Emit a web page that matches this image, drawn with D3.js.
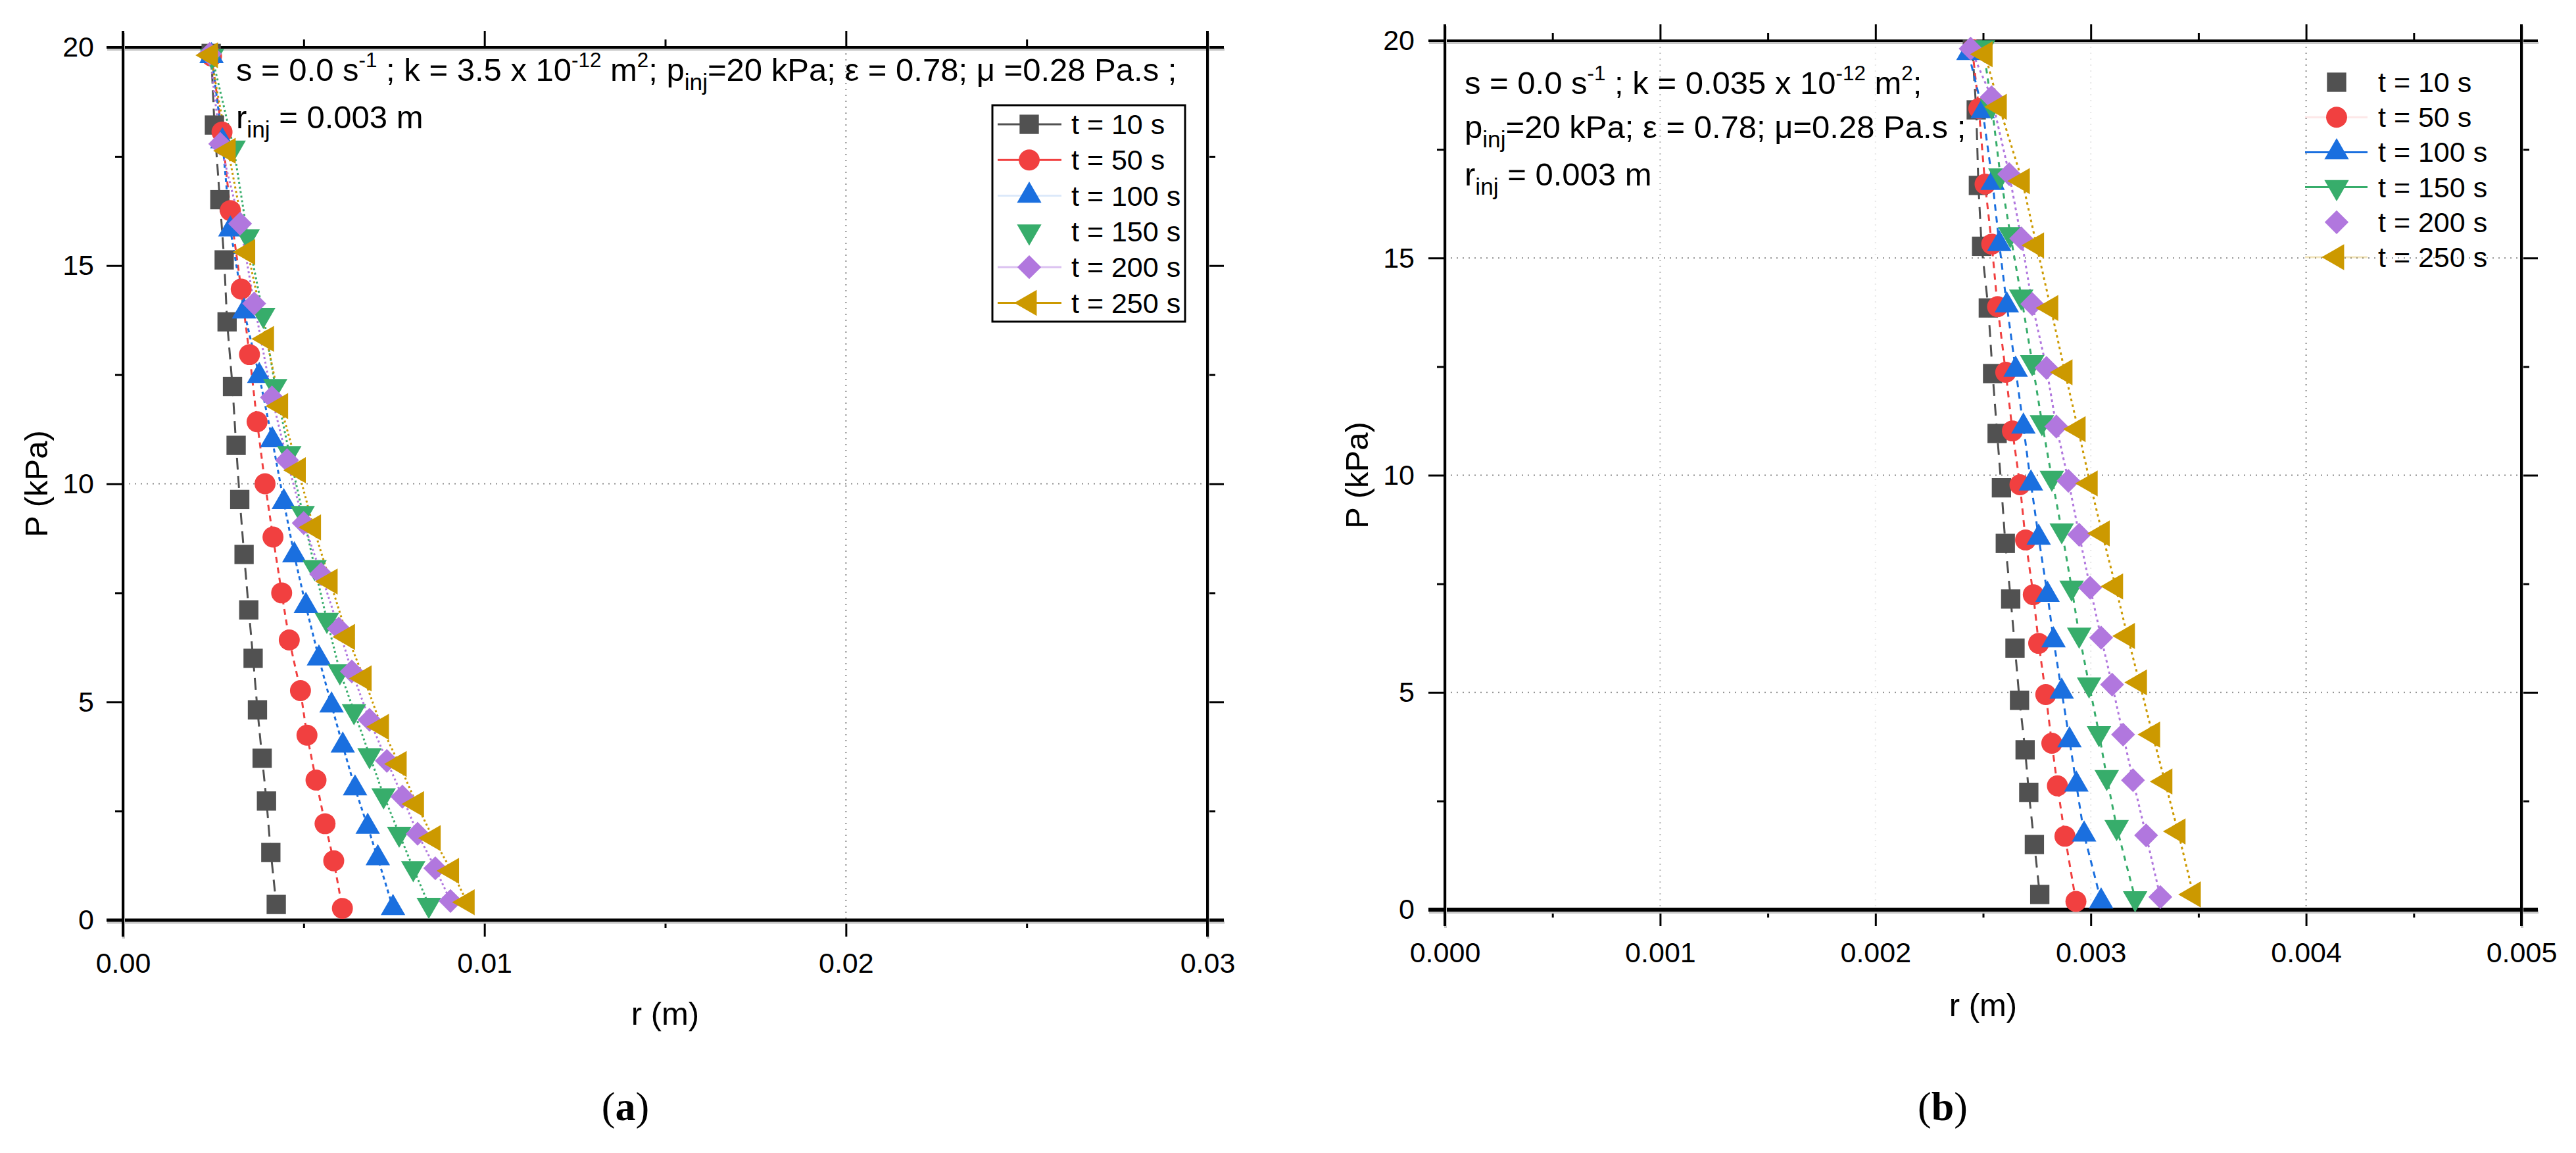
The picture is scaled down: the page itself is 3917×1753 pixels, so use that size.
<!DOCTYPE html>
<html><head><meta charset="utf-8">
<script src="https://cdn.jsdelivr.net/npm/d3@7"></script>
<style>body{margin:0;background:#fff;} svg{display:block;}</style>
</head><body>
<svg id="chart" width="3917" height="1753"></svg>
<script>
// ---------------- DATA ----------------
const seriesLabels = ["t = 10 s", "t = 50 s", "t = 100 s", "t = 150 s", "t = 200 s", "t = 250 s"];
const seriesColors = ["#515151", "#F14040", "#1A6FDF", "#37AD6B", "#B177DE", "#CC9900"];

const xTicksA = [0, 0.01, 0.02, 0.03];
const xTickLabelsA = ["0.00", "0.01", "0.02", "0.03"];
const xMinorA = [0.005, 0.015, 0.025];
const xTicksB = [0, 0.001, 0.002, 0.003, 0.004, 0.005];
const xTickLabelsB = ["0.000", "0.001", "0.002", "0.003", "0.004", "0.005"];
const xMinorB = [0.0005, 0.0015, 0.0025, 0.0035, 0.0045];
const yTicks = [0, 5, 10, 15, 20];
const yTickLabels = ["0", "5", "10", "15", "20"];
const yMinor = [2.5, 7.5, 12.5, 17.5];

// panel (a): [r (m), P (kPa)]
const a10 = [[0.00244,19.86],[0.00253,18.22],[0.00268,16.51],[0.00280,15.13],[0.00288,13.71],[0.00303,12.23],[0.00313,10.88],[0.00323,9.64],[0.00335,8.38],[0.00348,7.11],[0.00360,6.00],[0.00372,4.82],[0.00385,3.71],[0.00397,2.73],[0.00409,1.55],[0.00424,0.36]];
const a50 = [[0.00245,19.8],[0.00274,18.06],[0.00297,16.26],[0.00327,14.46],[0.00350,12.96],[0.00371,11.42],[0.00393,10.0],[0.00415,8.78],[0.00439,7.50],[0.00460,6.42],[0.00491,5.26],[0.00509,4.24],[0.00534,3.21],[0.00559,2.21],[0.00583,1.36],[0.00607,0.27]];
const a100 = [[0.00245,19.8],[0.00275,17.85],[0.00297,15.83],[0.00335,13.95],[0.00377,12.47],[0.00413,11.0],[0.00445,9.58],[0.00474,8.36],[0.00506,7.20],[0.00542,6.00],[0.00577,4.92],[0.00608,4.00],[0.00642,3.02],[0.00677,2.14],[0.00705,1.42],[0.00747,0.28]];
const a150 = [[0.00246,19.8],[0.00306,17.70],[0.00345,15.67],[0.00388,13.87],[0.00421,12.24],[0.00460,10.70],[0.00497,9.33],[0.00530,8.09],[0.00564,6.88],[0.00600,5.70],[0.00639,4.79],[0.00682,3.78],[0.00721,2.86],[0.00764,1.98],[0.00803,1.19],[0.00846,0.35]];
const a200 = [[0.00240,19.85],[0.00269,17.79],[0.00324,15.96],[0.00363,14.13],[0.00412,11.98],[0.00454,10.54],[0.00500,9.10],[0.00548,7.93],[0.00597,6.68],[0.00633,5.70],[0.00682,4.59],[0.00730,3.65],[0.00773,2.83],[0.00815,1.98],[0.00864,1.19],[0.00906,0.44]];
const a250 = [[0.00242,19.82],[0.00291,17.63],[0.00345,15.31],[0.00397,13.32],[0.00436,11.78],[0.00485,10.31],[0.00527,9.00],[0.00573,7.76],[0.00621,6.49],[0.00667,5.54],[0.00715,4.43],[0.00764,3.58],[0.00812,2.66],[0.00858,1.88],[0.00909,1.13],[0.00952,0.41]];

// panel (b): [r (m), P (kPa)]
const b10 = [[0.00245,19.8],[0.002468,18.41],[0.002478,16.67],[0.002493,15.27],[0.002524,13.85],[0.002544,12.34],[0.002565,10.96],[0.002585,9.71],[0.002603,8.43],[0.002628,7.15],[0.002648,6.02],[0.002669,4.82],[0.002695,3.68],[0.002712,2.70],[0.002738,1.50],[0.002763,0.35]];
const b50 = [[0.00245,19.8],[0.00248,18.44],[0.002509,16.70],[0.00254,15.32],[0.002567,13.88],[0.002605,12.37],[0.002636,11.02],[0.002671,9.78],[0.002697,8.51],[0.002733,7.25],[0.002758,6.13],[0.002791,4.95],[0.002819,3.83],[0.002845,2.85],[0.00288,1.69],[0.002931,0.19]];
const b100 = [[0.002432,19.72],[0.002498,18.38],[0.002544,16.73],[0.002575,15.32],[0.00261,13.91],[0.002651,12.43],[0.002687,11.12],[0.002722,9.81],[0.002758,8.56],[0.002799,7.25],[0.002827,6.20],[0.002865,5.02],[0.002901,3.90],[0.002933,2.88],[0.002969,1.73],[0.003048,0.19]];
const b150 = [[0.00250,19.85],[0.00254,18.5],[0.00258,16.90],[0.002626,15.55],[0.002677,14.11],[0.002728,12.60],[0.002773,11.22],[0.002819,9.94],[0.002865,8.73],[0.002911,7.41],[0.002946,6.33],[0.002992,5.18],[0.003038,4.06],[0.003074,3.05],[0.00312,1.90],[0.003206,0.26]];
const b200 = [[0.002442,19.82],[0.002539,18.70],[0.002621,16.93],[0.002677,15.45],[0.002728,13.94],[0.002794,12.47],[0.00284,11.12],[0.002896,9.87],[0.002946,8.63],[0.002997,7.41],[0.003048,6.26],[0.003099,5.18],[0.00315,4.03],[0.003196,2.98],[0.003257,1.71],[0.003323,0.29]];
const b250 = [[0.002509,19.69],[0.002575,18.48],[0.002682,16.77],[0.002748,15.29],[0.002814,13.85],[0.00288,12.37],[0.002941,11.06],[0.002997,9.81],[0.003053,8.66],[0.003115,7.44],[0.00317,6.30],[0.003226,5.23],[0.003287,4.03],[0.003344,2.95],[0.003405,1.80],[0.003476,0.35]];

// ---------------- RENDER ----------------
const FONT = "'Liberation Sans', Arial, Helvetica, sans-serif";
const svg = d3.select("#chart");
svg.append("rect").attr("width", 3917).attr("height", 1753).attr("fill", "#fff");

const triPath = d3.symbol().type(d3.symbolTriangle).size(600)();
const triLPath = d3.symbol().type(d3.symbolTriangle).size(680)();
const sqPath = d3.symbol().type(d3.symbolSquare).size(860)();
const circPath = d3.symbol().type(d3.symbolCircle).size(800)();
const diaPath = d3.symbol().type(d3.symbolSquare).size(660)();
const markers = [
  {d: sqPath, rot: 0},
  {d: circPath, rot: 0},
  {d: triPath, rot: 0},
  {d: triPath, rot: 180},
  {d: diaPath, rot: 45},
  {d: triLPath, rot: -90}
];

function richText(g, x, y, segs, size, anchor) {
  const t = g.append("text").attr("x", x).attr("y", y)
    .attr("font-family", FONT).attr("font-size", size).attr("fill", "#000")
    .attr("text-anchor", anchor || "start");
  let cur = 0;
  segs.forEach(s => {
    let target = 0, fs = size;
    if (s.sup) { target = -size * 0.42; fs = size * 0.64; }
    if (s.sub) { target = size * 0.28; fs = size * 0.72; }
    t.append("tspan").attr("dy", target - cur).attr("font-size", fs).text(s.t);
    cur = target;
  });
  return t;
}

function drawPanel(cfg) {
  const g = svg.append("g");
  const x = d3.scaleLinear().domain(cfg.xDomain).range([cfg.left, cfg.right]);
  const y = d3.scaleLinear().domain([0, 20]).range([cfg.bottom, cfg.top]);

  // grid
  cfg.gridX.forEach((v, i) => {
    g.append("line").attr("x1", x(v)).attr("x2", x(v)).attr("y1", cfg.top).attr("y2", cfg.bottom)
      .attr("stroke", "#8c8c8c").attr("stroke-width", 2).attr("stroke-dasharray", "2,7")
      .attr("opacity", cfg.gridXOp[i]);
  });
  cfg.gridY.forEach(v => {
    g.append("line").attr("y1", y(v)).attr("y2", y(v)).attr("x1", cfg.left).attr("x2", cfg.right)
      .attr("stroke", "#8c8c8c").attr("stroke-width", 2).attr("stroke-dasharray", "2,7");
  });

  // axes ticks
  const tickStyle = sel => {
    sel.select(".domain").remove();
    sel.selectAll(".tick line").attr("stroke", "#000").attr("stroke-width", 3);
    sel.selectAll(".tick text").attr("font-family", FONT).attr("font-size", 43).attr("fill", "#000");
  };
  g.append("g").attr("transform", `translate(0,${cfg.bottom})`)
    .call(d3.axisBottom(x).tickValues(cfg.xTicks).tickSizeInner(25).tickSizeOuter(0).tickPadding(cfg.xPad)
      .tickFormat((d, i) => cfg.xLabels[i])).call(tickStyle);
  g.append("g").attr("transform", `translate(0,${cfg.bottom})`)
    .call(d3.axisBottom(x).tickValues(cfg.xMinor).tickSizeInner(12).tickSizeOuter(0).tickFormat("")).call(tickStyle);
  g.append("g").attr("transform", `translate(0,${cfg.top})`)
    .call(d3.axisTop(x).tickValues(cfg.xTicks).tickSizeInner(25).tickSizeOuter(0).tickFormat("")).call(tickStyle);
  g.append("g").attr("transform", `translate(0,${cfg.top})`)
    .call(d3.axisTop(x).tickValues(cfg.xMinor).tickSizeInner(12).tickSizeOuter(0).tickFormat("")).call(tickStyle);
  g.append("g").attr("transform", `translate(${cfg.left},0)`)
    .call(d3.axisLeft(y).tickValues(yTicks).tickSizeInner(25).tickSizeOuter(0).tickPadding(cfg.yPad)
      .tickFormat((d, i) => yTickLabels[i])).call(tickStyle);
  g.append("g").attr("transform", `translate(${cfg.left},0)`)
    .call(d3.axisLeft(y).tickValues(yMinor).tickSizeInner(12).tickSizeOuter(0).tickFormat("")).call(tickStyle);
  g.append("g").attr("transform", `translate(${cfg.right},0)`)
    .call(d3.axisRight(y).tickValues(yTicks).tickSizeInner(25).tickSizeOuter(0).tickFormat("")).call(tickStyle);
  g.append("g").attr("transform", `translate(${cfg.right},0)`)
    .call(d3.axisRight(y).tickValues(yMinor).tickSizeInner(12).tickSizeOuter(0).tickFormat("")).call(tickStyle);

  // frame lines (extended like the original)
  const ext = 25;
  const frame = [
    [cfg.left - ext, cfg.bottom, cfg.right + ext, cfg.bottom, cfg.bw],
    [cfg.left - ext, cfg.top, cfg.right + ext, cfg.top, 4],
    [cfg.left, cfg.top - ext, cfg.left, cfg.bottom + ext, 4],
    [cfg.right, cfg.top - ext, cfg.right, cfg.bottom + ext, 4]
  ];
  frame.forEach(f => {
    g.append("line").attr("x1", f[0] + 1).attr("y1", f[1] + 3).attr("x2", f[2] + 1).attr("y2", f[3] + 3)
      .attr("stroke", "#c8c8c8").attr("stroke-width", f[4]);
    g.append("line").attr("x1", f[0]).attr("y1", f[1]).attr("x2", f[2]).attr("y2", f[3])
      .attr("stroke", "#000").attr("stroke-width", f[4]);
  });

  // series lines
  const line = d3.line().x(d => x(d[0])).y(d => y(d[1]));
  cfg.series.forEach((s, i) => {
    g.append("path").attr("d", line(s)).attr("fill", "none")
      .attr("stroke", seriesColors[i]).attr("stroke-width", cfg.lineW[i])
      .attr("stroke-dasharray", cfg.dash[i]);
  });
  // markers
  cfg.series.forEach((s, i) => {
    g.append("g").selectAll("path").data(s).join("path")
      .attr("d", markers[i].d)
      .attr("transform", d => `translate(${x(d[0])},${y(d[1])}) rotate(${markers[i].rot})`)
      .attr("fill", seriesColors[i]);
  });

  // annotation
  cfg.notes.forEach(n => richText(g, n.x, n.y, n.segs, 49));

  // legend
  const L = cfg.legend;
  if (L.box) {
    g.append("rect").attr("x", L.box[0]).attr("y", L.box[1]).attr("width", L.box[2]).attr("height", L.box[3])
      .attr("fill", "#fff").attr("stroke", "#000").attr("stroke-width", 3);
  }
  seriesLabels.forEach((lab, i) => {
    const cy = L.y0 + i * L.dy;
    if (L.lineOp[i] > 0) {
      g.append("line").attr("x1", L.lx1).attr("x2", L.lx2).attr("y1", cy).attr("y2", cy)
        .attr("stroke", seriesColors[i]).attr("stroke-width", 3).attr("opacity", L.lineOp[i]);
    }
    g.append("path").attr("d", markers[i].d)
      .attr("transform", `translate(${L.sx},${cy}) rotate(${markers[i].rot})`)
      .attr("fill", seriesColors[i]);
    g.append("text").attr("x", L.tx).attr("y", cy + 15).attr("font-family", FONT).attr("font-size", 43)
      .attr("fill", "#000").text(lab);
  });

  // axis titles
  g.append("text").attr("x", (cfg.left + cfg.right) / 2).attr("y", cfg.xTitleY).attr("text-anchor", "middle")
    .attr("font-family", FONT).attr("font-size", 49).text("r (m)");
  g.append("text").attr("transform", `translate(${cfg.yTitleX},${(cfg.top + cfg.bottom) / 2}) rotate(-90)`)
    .attr("text-anchor", "middle").attr("dy", "0.35em")
    .attr("font-family", FONT).attr("font-size", 49).text("P (kPa)");

  // caption
  const cap = g.append("text").attr("x", cfg.capX).attr("y", 1703).attr("text-anchor", "middle")
    .attr("font-family", "'Liberation Serif', 'Times New Roman', serif").attr("font-size", 62);
  cap.append("tspan").text("(");
  cap.append("tspan").attr("font-weight", "bold").text(cfg.cap);
  cap.append("tspan").text(")");
}

drawPanel({
  xDomain: [0, 0.03], left: 187, right: 1836, top: 72, bottom: 1399, bw: 5,
  xTicks: xTicksA, xLabels: xTickLabelsA, xMinor: xMinorA, xPad: 24, yPad: 19,
  gridX: [0.02], gridXOp: [1], gridY: [10],
  series: [a10, a50, a100, a150, a200, a250],
  lineW: [3, 3, 3, 3, 3, 3],
  dash: ["18,10", "9,7", "6,5", "3,4", "3,4", "3,4"],
  notes: [
    {x: 359, y: 123, segs: [{t: "s = 0.0 s"}, {t: "-1", sup: 1}, {t: " ; k = 3.5 x 10"}, {t: "-12", sup: 1}, {t: " m"}, {t: "2", sup: 1}, {t: "; p"}, {t: "inj", sub: 1}, {t: "=20 kPa; \u03b5 = 0.78; \u03bc =0.28 Pa.s ;"}]},
    {x: 359, y: 195, segs: [{t: "r"}, {t: "inj", sub: 1}, {t: " = 0.003 m"}]}
  ],
  legend: {box: [1509, 160, 293, 329], y0: 189, dy: 54.3, lx1: 1517, lx2: 1614, sx: 1565, tx: 1629,
           lineOp: [1, 1, 0.15, 0, 0.45, 1]},
  xTitleY: 1558, yTitleX: 55, capX: 951, cap: "a"
});

drawPanel({
  xDomain: [0, 0.005], left: 2197, right: 3834, top: 62, bottom: 1383, bw: 6,
  xTicks: xTicksB, xLabels: xTickLabelsB, xMinor: xMinorB, xPad: 24, yPad: 21,
  gridX: [0.001, 0.002, 0.003, 0.004], gridXOp: [0.6, 0.2, 0.2, 1], gridY: [5, 10, 15],
  series: [b10, b50, b100, b150, b200, b250],
  lineW: [3, 3, 3, 3, 3, 3],
  dash: ["18,12", "10,8", "10,8", "8,8", "4,5", "4,5"],
  notes: [
    {x: 2227, y: 143, segs: [{t: "s = 0.0 s"}, {t: "-1", sup: 1}, {t: " ; k = 0.035 x 10"}, {t: "-12", sup: 1}, {t: " m"}, {t: "2", sup: 1}, {t: ";"}]},
    {x: 2227, y: 210, segs: [{t: "p"}, {t: "inj", sub: 1}, {t: "=20 kPa; \u03b5 = 0.78; \u03bc=0.28 Pa.s ;"}]},
    {x: 2227, y: 282, segs: [{t: "r"}, {t: "inj", sub: 1}, {t: " = 0.003 m"}]}
  ],
  legend: {box: null, y0: 125, dy: 53.2, lx1: 3505, lx2: 3600, sx: 3553, tx: 3616,
           lineOp: [0, 0.12, 1, 1, 0, 0.25]},
  xTitleY: 1545, yTitleX: 2063, capX: 2954, cap: "b"
});
</script>
</body></html>
